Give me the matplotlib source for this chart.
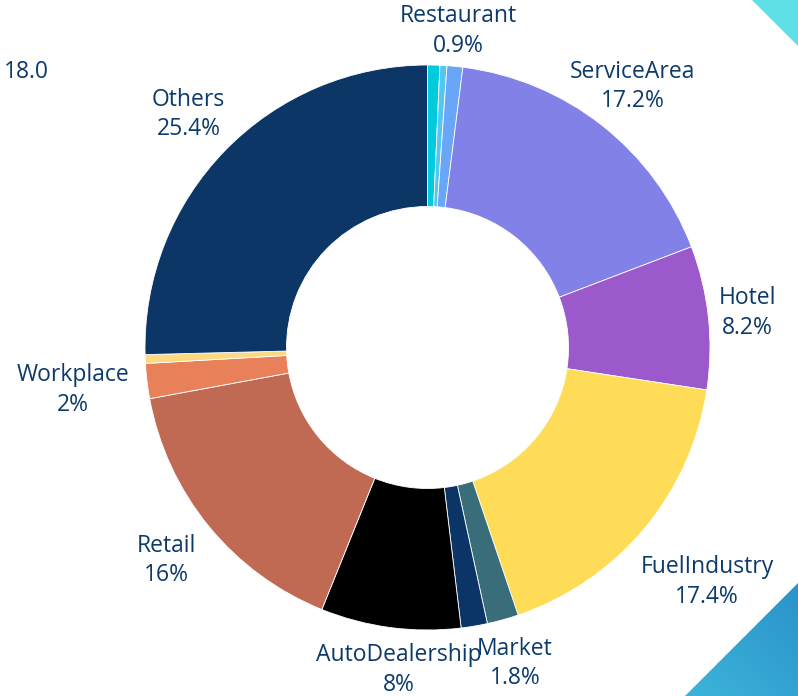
import numpy as np
import matplotlib.pyplot as plt
from matplotlib.patches import Polygon

# slices clockwise from 12 o'clock
names = ['', '', 'Restaurant', 'ServiceArea', 'Hotel', 'FuelIndustry', 'Market', '',
         'AutoDealership', 'Retail', 'Workplace', '', 'Others']
shares = [0.7, 0.4, 0.9, 17.2, 8.2, 17.4, 1.8, 1.5, 8, 16, 2, 0.5, 25.4]
labels = ['', '', '0.9%', '17.2%', '8.2%', '17.4%', '1.8%', '', '8%', '16%', '2%', '', '25.4%']
colors = ['#00cbdc', '#55c6f4', '#68a6f8', '#8181e8', '#9b59cc', '#ffdc57', '#3a6d7a',
          '#0a3566', '#000000', '#c06a53', '#e8805a', '#ffd97f', '#0b3666']

# label distance from centre (px) and small angle nudge (deg)
label_dist = [0, 0, 318, 332, 322, 365, 328, 0, 324, 337, 357, 0, 334]
label_nudge = [0, 0, 0, 0, 0, 0, 0, 0, -2.4, 0, 0, 0, 0]

W, H = 798, 696
cx, cy = 427.5, H - 347.5
r_out, r_in = 282.5, 141
txt = '#0b3a6b'

plt.rcParams['font.family'] = ['Open Sans', 'DejaVu Sans']

fig = plt.figure(figsize=(W / 100, H / 100), dpi=100)
ax = fig.add_axes([0, 0, 1, 1])

ax.pie(shares, colors=colors, startangle=90, counterclock=False,
       radius=r_out, center=(cx, cy),
       wedgeprops=dict(width=r_out - r_in, edgecolor='white', linewidth=0.6))

total = sum(shares)
cum = 0
for n, s, l, d, nd in zip(names, shares, labels, label_dist, label_nudge):
    mid = np.deg2rad((cum + s / 2) / total * 360 + nd)
    cum += s
    if not n:
        continue
    x = cx + d * np.sin(mid)
    y = cy + d * np.cos(mid)
    ax.text(x, y, n + '\n' + l, ha='center', va='center', multialignment='center',
            fontsize=16.5, color=txt, linespacing=1.3)

ax.text(4, H - 72, '18.0', ha='left', va='center', fontsize=16.5, color=txt)

# corner decorations
ax.add_patch(Polygon([(752, H), (W, H), (W, H - 46)], closed=True,
                     facecolor='#5ee0e6', edgecolor='none'))
tri = Polygon([(685, 0), (W, H - 583), (W, 0)], closed=True,
              facecolor='none', edgecolor='none')
ax.add_patch(tri)
grad = np.linspace(0, 1, 100)
gx, gy = np.meshgrid(grad, grad)
g = (gx + gy) / 2
im = ax.imshow(g, extent=(685, W, 0, H - 583), origin='lower',
               cmap=plt.matplotlib.colors.LinearSegmentedColormap.from_list('c', ['#3cb4da', '#2b93cb']),
               aspect='auto', zorder=1)
im.set_clip_path(tri)

ax.set_xlim(0, W)
ax.set_ylim(0, H)
ax.axis('off')

fig.savefig('out.png', dpi=100)
